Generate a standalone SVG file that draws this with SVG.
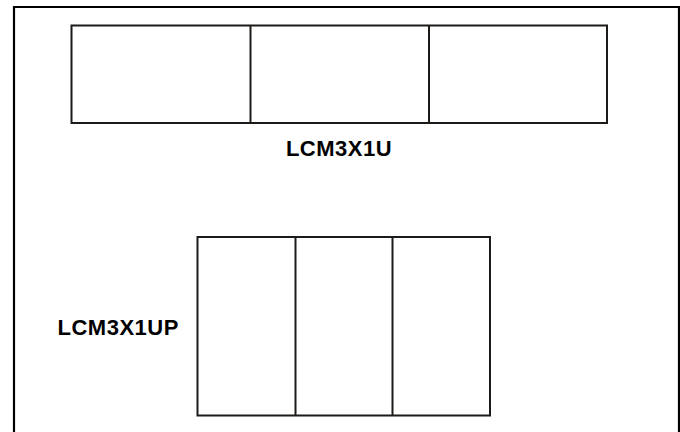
<svg xmlns="http://www.w3.org/2000/svg" width="680" height="432" viewBox="0 0 680 432">
<style>
.box{fill:#fff;stroke:#1e1a18;stroke-width:2}
.lbl{font-family:"Liberation Sans",Arial,sans-serif;font-weight:bold;font-size:22px;fill:#000;letter-spacing:0.5px}
</style>
<rect x="0" y="0" width="680" height="432" fill="#fff"/>
<path d="M14,440 V7 H679 V440" fill="none" stroke="#000" stroke-width="2.2"/>
<g id="lcm3x1u">
<rect class="box" x="71.5" y="25.5" width="535.5" height="97.5"/>
<line class="box" x1="250.5" y1="25.5" x2="250.5" y2="123"/>
<line class="box" x1="429" y1="25.5" x2="429" y2="123"/>
<text class="lbl" x="339" y="156" text-anchor="middle">LCM3X1U</text>
</g>
<g id="lcm3x1up">
<rect class="box" x="197.5" y="237" width="292.5" height="178.5"/>
<line class="box" x1="295.5" y1="237" x2="295.5" y2="415.5"/>
<line class="box" x1="392.5" y1="237" x2="392.5" y2="415.5"/>
<text class="lbl" x="57.5" y="335">LCM3X1UP</text>
</g>
<g id="connectors"/>
</svg>
